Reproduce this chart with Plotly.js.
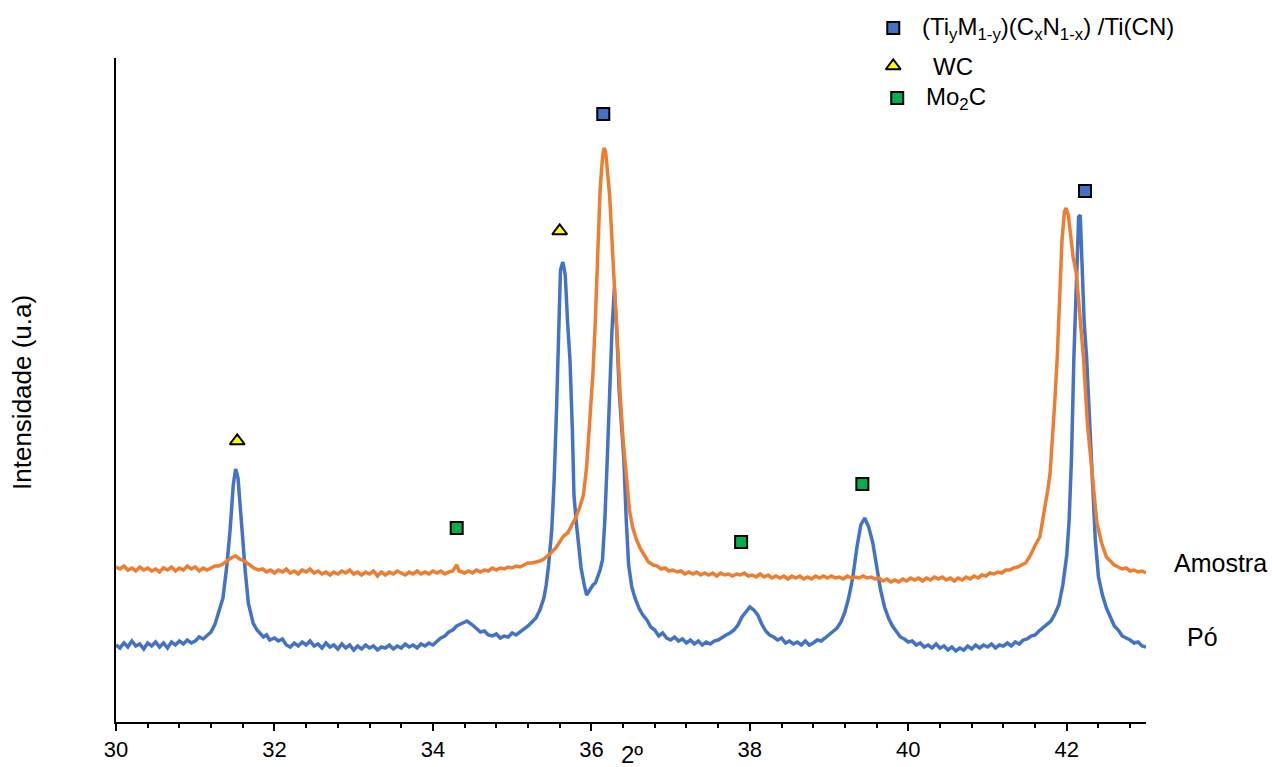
<!DOCTYPE html>
<html>
<head>
<meta charset="utf-8">
<script src="https://cdn.plot.ly/plotly-3.0.1.min.js"></script>
<style>html,body{margin:0;padding:0;background:#fff;}#chart{width:1272px;height:767px;}</style>
</head>
<body>
<div id="chart"></div>
<script>
// Pó (powder) pattern: 2θ and intensity (a.u.)
const poX = [30.00,30.05,30.10,30.15,30.20,30.25,30.30,30.35,30.40,30.45,30.50,30.55,30.60,30.65,30.70,30.75,30.80,30.85,30.90,30.95,
31.00,31.05,31.10,31.15,31.20,31.25,31.30,31.35,31.40,31.44,31.48,31.51,31.54,31.57,31.60,31.63,31.67,31.70,31.73,31.78,31.82,31.86,31.90,31.94,
32.00,32.05,32.10,32.15,32.20,32.25,32.30,32.35,32.40,32.45,32.50,32.55,32.60,32.65,32.70,32.75,32.80,32.85,32.90,32.95,
33.00,33.05,33.10,33.15,33.20,33.25,33.30,33.35,33.40,33.45,33.50,33.55,33.60,33.65,33.70,33.75,33.80,33.85,33.90,33.95,
34.00,34.05,34.10,34.15,34.20,34.25,34.30,34.35,34.43,34.50,34.55,34.60,34.65,34.70,34.75,34.80,34.85,34.90,34.95,
35.00,35.05,35.10,35.15,35.20,35.25,35.30,35.35,35.40,35.43,35.46,35.50,35.53,35.56,35.58,35.61,35.64,35.67,35.70,35.73,35.76,35.78,35.81,35.84,35.87,35.91,35.94,35.98,
36.02,36.05,36.08,36.11,36.14,36.17,36.20,36.23,36.26,36.29,36.32,36.35,36.38,36.41,36.44,36.47,36.51,36.55,36.60,36.65,36.70,36.75,36.80,36.85,36.90,36.95,
37.00,37.05,37.10,37.15,37.20,37.25,37.30,37.35,37.40,37.45,37.50,37.55,37.60,37.65,37.70,37.75,37.80,37.85,37.90,37.95,
38.00,38.05,38.10,38.15,38.20,38.25,38.30,38.35,38.40,38.45,38.50,38.55,38.60,38.65,38.70,38.75,38.80,38.85,38.90,38.95,
39.00,39.05,39.10,39.15,39.20,39.25,39.30,39.35,39.40,39.45,39.50,39.55,39.60,39.65,39.70,39.75,39.80,39.85,39.90,39.95,
40.00,40.05,40.10,40.15,40.20,40.25,40.30,40.35,40.40,40.45,40.50,40.55,40.60,40.65,40.70,40.75,40.80,40.85,40.90,40.95,
41.00,41.05,41.10,41.15,41.20,41.25,41.30,41.35,41.40,41.45,41.50,41.55,41.60,41.65,41.70,41.75,41.80,41.85,41.90,41.95,
42.00,42.03,42.06,42.09,42.12,42.15,42.17,42.19,42.22,42.25,42.28,42.32,42.36,42.40,42.45,42.50,42.55,42.60,42.65,42.70,42.75,42.80,42.85,42.90,42.95,43.00];
const poY = [77,74,79,75,81,76,78,73,79,76,80,75,79,74,80,77,81,78,82,79,
81,85,83,87,90,98,110,124,157,192,237,253,244,212,177,152,119,107,99,92,89,85,87,82,
84,81,83,77,75,79,76,80,77,81,76,78,74,79,75,77,73,78,74,77,
72,76,73,77,74,76,72,75,74,77,73,76,74,78,75,77,74,78,76,79,
77,81,84,86,90,92,96,98,101,97,93,90,91,87,86,88,84,86,85,
89,87,90,92,96,100,104,112,124,137,157,192,242,312,365,452,460,447,399,362,292,227,199,174,154,137,127,132,
137,139,145,152,162,202,262,332,392,434,392,332,299,262,202,157,135,124,114,107,102,95,92,86,89,84,
82,85,81,83,79,82,78,81,77,80,78,81,82,85,87,89,92,97,105,110,
115,112,107,98,91,87,85,82,84,79,81,78,80,77,81,77,79,82,81,84,
87,90,94,100,110,125,145,174,197,204,195,180,157,132,115,104,96,90,85,83,
80,81,77,79,75,77,74,78,74,76,72,75,71,74,72,76,73,77,74,77,
75,78,74,77,76,79,76,80,78,82,83,86,87,91,94,97,101,108,117,137,
167,202,265,365,437,505,507,465,399,365,315,249,182,145,127,114,104,96,92,86,84,82,79,80,76,75];

// Amostra (sample) pattern
const amX = [30.00,30.05,30.10,30.15,30.20,30.25,30.30,30.35,30.40,30.45,30.50,30.55,30.60,30.65,30.70,30.75,30.80,30.85,30.90,30.95,
31.00,31.05,31.10,31.15,31.20,31.25,31.30,31.35,31.40,31.45,31.51,31.56,31.62,31.68,31.74,31.80,31.85,31.90,31.95,
32.00,32.05,32.10,32.15,32.20,32.25,32.30,32.35,32.40,32.45,32.50,32.55,32.60,32.65,32.70,32.75,32.80,32.85,32.90,32.95,
33.00,33.05,33.10,33.15,33.20,33.25,33.30,33.35,33.40,33.45,33.50,33.55,33.60,33.65,33.70,33.75,33.80,33.85,33.90,33.95,
34.00,34.05,34.10,34.15,34.20,34.25,34.30,34.33,34.40,34.45,34.50,34.55,34.60,34.65,34.70,34.75,34.80,34.85,34.90,34.95,
35.00,35.05,35.10,35.15,35.20,35.25,35.30,35.35,35.40,35.45,35.50,35.55,35.60,35.65,35.70,35.75,35.80,35.85,35.90,35.94,35.98,
36.02,36.05,36.08,36.11,36.14,36.16,36.18,36.20,36.23,36.26,36.29,36.32,36.36,36.40,36.44,36.48,36.52,36.57,36.62,36.67,36.72,36.78,36.83,36.88,36.93,36.98,
37.03,37.08,37.13,37.18,37.23,37.28,37.33,37.38,37.43,37.48,37.53,37.58,37.63,37.68,37.73,37.78,37.83,37.88,37.93,37.98,
38.03,38.08,38.13,38.18,38.23,38.28,38.33,38.38,38.43,38.48,38.53,38.58,38.63,38.68,38.73,38.78,38.83,38.88,38.93,38.98,
39.03,39.08,39.13,39.18,39.23,39.28,39.33,39.38,39.43,39.48,39.53,39.58,39.63,39.68,39.73,39.78,39.83,39.88,39.93,39.98,
40.03,40.08,40.13,40.18,40.23,40.28,40.33,40.38,40.43,40.48,40.53,40.58,40.63,40.68,40.73,40.78,40.83,40.88,40.93,40.98,
41.03,41.08,41.13,41.18,41.23,41.28,41.33,41.38,41.43,41.48,41.53,41.57,41.61,41.66,41.70,41.73,41.76,41.79,41.82,41.85,41.88,41.91,41.94,41.97,41.99,
42.02,42.05,42.08,42.12,42.16,42.21,42.26,42.32,42.38,42.44,42.50,42.55,42.60,42.65,42.70,42.75,42.80,42.85,42.90,42.95,43.00];
const amY = [155,153,156,152,154,151,155,152,154,151,153,150,154,152,155,151,154,152,156,153,
155,151,154,152,154,156,156,158,161,164,166,163,161,157,154,152,153,150,152,
149,152,150,153,149,151,148,152,150,153,149,151,148,150,147,150,148,151,149,152,
148,150,147,150,148,151,146,150,147,150,148,151,149,147,150,148,151,148,150,148,
151,149,151,148,150,151,157,151,149,151,149,152,150,152,151,154,152,154,153,155,
154,156,155,157,159,159,160,161,163,166,170,174,180,186,189,197,204,214,227,255,299,
349,402,467,532,564,574,570,554,527,482,437,382,332,282,242,212,195,182,173,166,160,157,156,153,154,151,
152,150,151,148,150,148,150,147,149,147,149,146,149,147,148,146,148,147,149,146,
147,145,148,145,147,144,146,144,146,143,146,144,146,143,145,143,146,144,146,144,
146,144,145,143,146,144,145,144,146,144,145,143,144,141,143,140,142,140,143,141,
144,142,144,141,144,142,145,143,145,142,144,141,144,142,145,143,146,144,147,146,
149,148,150,149,152,152,154,155,157,159,165,172,178,185,202,215,232,249,282,322,365,417,482,510,514,
507,487,465,449,415,365,299,249,199,179,165,161,157,155,153,154,151,152,150,151,149];

// Phase markers
const tiX = [36.15, 42.23];
const tiY = [608, 531];
const wcX = [31.53, 35.60];
const wcY = [281, 491];
const moX = [34.30, 37.89, 39.42];
const moY = [194, 180, 238];

// Legend keys (drawn on a separate full-height axis)
const legX = [39.81, 39.81, 39.86];
const legY = [694, 656, 624];
const legLabels = ['(Ti<sub>y</sub>M<sub>1-y</sub>)(C<sub>x</sub>N<sub>1-x</sub>) /Ti(CN)', 'WC', 'Mo<sub>2</sub>C'];
const legLabelX = [40.15, 40.29, 40.20];
const seriesNames = ['Amostra', 'Pó'];

const FONT = 'Liberation Sans, Arial, sans-serif';
const blue = '#4472C4', orange = '#ED7D31';
const PLOT_H = 722;           // paper height in px between top and x axis
const MAIN_TOP = 664 / 722;   // main y axis domain top

const sq = (c) => ({symbol: 'square', size: 12, color: c, line: {color: '#000', width: 2}});
const tri = {symbol: 'triangle-up', size: 13, color: '#FFFF00', line: {color: '#000', width: 2}};

const traces = [
  {x: poX, y: poY, mode: 'lines', line: {color: blue, width: 3.5}, name: 'Pó'},
  {x: amX, y: amY, mode: 'lines', line: {color: orange, width: 3.5}, name: 'Amostra'},
  {x: tiX, y: tiY, mode: 'markers', cliponaxis: false, marker: sq(blue)},
  {x: wcX, y: wcY, mode: 'markers', cliponaxis: false, marker: tri},
  {x: moX, y: moY, mode: 'markers', cliponaxis: false, marker: sq('#00B050')},
  {x: [legX[0]], y: [legY[0]], yaxis: 'y2', mode: 'markers', cliponaxis: false, marker: sq(blue)},
  {x: [legX[1]], y: [legY[1]], yaxis: 'y2', mode: 'markers', cliponaxis: false, marker: tri},
  {x: [legX[2]], y: [legY[2]], yaxis: 'y2', mode: 'markers', cliponaxis: false, marker: sq('#00B050')}
];

const annotations = [];
for (let i = 0; i < legLabels.length; i++) {
  annotations.push({x: legLabelX[i], y: legY[i], xref: 'x', yref: 'y2', text: legLabels[i],
    showarrow: false, xanchor: 'left', yanchor: 'middle', font: {family: FONT, size: 24, color: '#000'}});
}
annotations.push({x: 1.025, y: (PLOT_H - 563) / PLOT_H, xref: 'paper', yref: 'paper', text: seriesNames[0], showarrow: false,
  xanchor: 'left', yanchor: 'middle', font: {family: FONT, size: 25, color: '#000'}});
annotations.push({x: 1.0375, y: (PLOT_H - 637) / PLOT_H, xref: 'paper', yref: 'paper', text: seriesNames[1], showarrow: false,
  xanchor: 'left', yanchor: 'middle', font: {family: FONT, size: 25, color: '#000'}});
annotations.push({x: 36.51, y: -(754 - PLOT_H) / PLOT_H, xref: 'x', yref: 'paper', text: '2º', showarrow: false,
  xanchor: 'center', yanchor: 'middle', font: {family: FONT, size: 24, color: '#000'}});
annotations.push({x: -0.0913, y: (PLOT_H - 392) / PLOT_H, xref: 'paper', yref: 'paper', text: 'Intensidade (u.a)', showarrow: false,
  textangle: -90, xanchor: 'center', yanchor: 'middle', font: {family: FONT, size: 26, color: '#000'}});

const layout = {
  width: 1272, height: 767,
  margin: {l: 116, r: 126, t: 0, b: 45, pad: 0},
  paper_bgcolor: '#fff', plot_bgcolor: 'rgba(0,0,0,0)',
  showlegend: false,
  font: {family: FONT, size: 20, color: '#000'},
  xaxis: {range: [30, 43], showgrid: false, zeroline: false, showline: true, linecolor: '#000', linewidth: 2,
    ticks: 'outside', ticklen: 7, tickwidth: 2, tickcolor: '#000', dtick: 2, tick0: 30,
    tickfont: {family: FONT, size: 22, color: '#000'},
    minor: {dtick: 0.4, ticks: 'outside', ticklen: 4, tickwidth: 2, tickcolor: '#000', showgrid: false}},
  yaxis: {domain: [0, MAIN_TOP], range: [0, 664], showgrid: false, zeroline: false, showline: true, linecolor: '#000', linewidth: 2,
    ticks: '', showticklabels: false},
  yaxis2: {domain: [0, 1], range: [0, PLOT_H], anchor: 'x', visible: false,
    showgrid: false, zeroline: false, showline: false, showticklabels: false},
  annotations: annotations
};

Plotly.newPlot('chart', traces, layout, {displayModeBar: false, staticPlot: true});
</script>
</body>
</html>
